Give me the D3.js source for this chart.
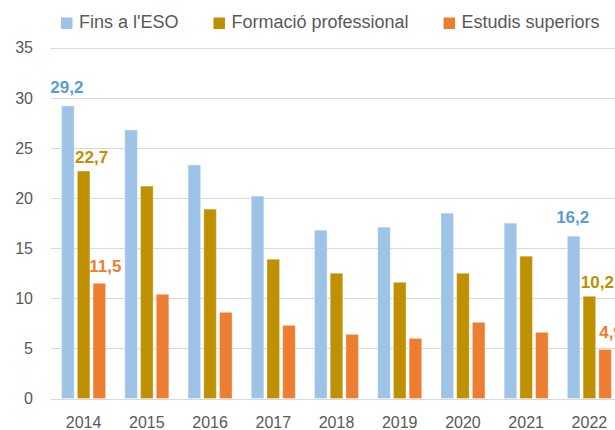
<!DOCTYPE html>
<html>
<head>
  <meta charset="utf-8">
  <script src="https://d3js.org/d3.v7.min.js"></script>
  <style>
    body { margin: 0; background: #fff; }
    svg { font-family: "Liberation Sans", Arial, sans-serif; }
  </style>
</head>
<body>
  <div id="chart"></div>
  <script>
    // data
    var years = ['2014', '2015', '2016', '2017', '2018', '2019', '2020', '2021', '2022'];
    var seriesNames = ['Fins a l\'ESO', 'Formació professional', 'Estudis superiors'];
    var finsEso = [29.2, 26.8, 23.3, 20.2, 16.8, 17.1, 18.5, 17.5, 16.2];
    var formacio = [22.7, 21.2, 18.9, 13.9, 12.5, 11.6, 12.5, 14.2, 10.2];
    var superiors = [11.5, 10.4, 8.6, 7.3, 6.4, 6.0, 7.6, 6.6, 4.9];
    var yTicks = [0, 5, 10, 15, 20, 25, 30, 35];
    var labelledYears = ['2014', '2022'];

    var values = [finsEso, formacio, superiors];
    var barColors = ['#9DC3E6', '#BF9000', '#ED7D31'];
    var labelColors = ['#5B9BD5', '#BF9000', '#ED7D31'];
    // per series nudge of the value labels (as placed in the original)
    var labelNudge = [{ dx: -1, dy: -13 }, { dx: 8, dy: -8 }, { dx: 6, dy: -11 }];

    var W = 615, H = 430;
    var svg = d3.select('#chart').append('svg')
      .attr('width', W)
      .attr('height', H);

    var y = d3.scaleLinear().domain([0, 35]).range([398.5, 47.8]);
    var x0 = d3.scaleBand().domain(years).range([52, 621]).padding(0);
    var half = x0.bandwidth() / 2;
    var x1 = d3.scaleBand().domain(d3.range(seriesNames.length))
      .range([half - 22, half + 22])
      .paddingInner(0.2);

    // gridlines
    svg.append('g').selectAll('line')
      .data(yTicks)
      .enter().append('line')
      .attr('x1', 51)
      .attr('x2', W)
      .attr('y1', function(d) { return Math.round(y(d)) + 0.5; })
      .attr('y2', function(d) { return Math.round(y(d)) + 0.5; })
      .attr('stroke', '#d9d9d9')
      .attr('stroke-width', 1);

    // y axis labels
    var yAxis = svg.append('g')
      .attr('transform', 'translate(33,0)')
      .call(d3.axisLeft(y).tickValues(yTicks).tickSize(0).tickPadding(0));
    yAxis.select('.domain').remove();
    yAxis.selectAll('text')
      .attr('font-size', '16px')
      .attr('font-family', '"Liberation Sans", Arial, sans-serif')
      .attr('fill', '#595959');

    // x axis labels
    var xAxis = svg.append('g')
      .attr('transform', 'translate(0,' + 416 + ')')
      .call(d3.axisBottom(x0).tickSize(0).tickPadding(0));
    xAxis.select('.domain').remove();
    xAxis.selectAll('text')
      .attr('font-size', '16px')
      .attr('font-family', '"Liberation Sans", Arial, sans-serif')
      .attr('fill', '#595959')
      .attr('dy', '0.75em');

    // bars
    var groups = svg.selectAll('.year')
      .data(years)
      .enter().append('g')
      .attr('class', 'year')
      .attr('transform', function(d) { return 'translate(' + x0(d) + ',0)'; });

    groups.selectAll('rect')
      .data(function(d, i) {
        return values.map(function(s, k) { return { k: k, v: s[i] }; });
      })
      .enter().append('rect')
      .attr('x', function(d) { return x1(d.k); })
      .attr('y', function(d) { return y(d.v); })
      .attr('width', x1.bandwidth())
      .attr('height', function(d) { return y(0) - y(d.v); })
      .attr('fill', function(d) { return barColors[d.k]; })
      .attr('stroke', '#fff')
      .attr('stroke-opacity', 0.35)
      .attr('stroke-width', 1);

    // value labels for first and last year
    var labelData = [];
    labelledYears.forEach(function(yr) {
      var i = years.indexOf(yr);
      values.forEach(function(s, k) { labelData.push({ year: yr, k: k, v: s[i] }); });
    });
    svg.append('g').selectAll('text')
      .data(labelData)
      .enter().append('text')
      .attr('x', function(d) { return x0(d.year) + x1(d.k) + x1.bandwidth() / 2 + labelNudge[d.k].dx; })
      .attr('y', function(d) { return y(d.v) + labelNudge[d.k].dy; })
      .attr('text-anchor', 'middle')
      .attr('font-size', '17px')
      .attr('font-weight', 'bold')
      .attr('fill', function(d) { return labelColors[d.k]; })
      .text(function(d) { return d3.format('.1f')(d.v).replace('.', ','); });

    // legend
    var legend = svg.append('g');
    var lx = 61;
    seriesNames.forEach(function(name, k) {
      legend.append('rect')
        .attr('x', lx)
        .attr('y', 17.5)
        .attr('width', 11.5)
        .attr('height', 11.5)
        .attr('fill', barColors[k]);
      var t = legend.append('text')
        .attr('x', lx + 18)
        .attr('y', 27.5)
        .attr('font-size', '18px')
        .attr('fill', '#595959')
        .text(name);
      lx = lx + 18 + t.node().getComputedTextLength() + 35;
    });
  </script>
</body>
</html>
